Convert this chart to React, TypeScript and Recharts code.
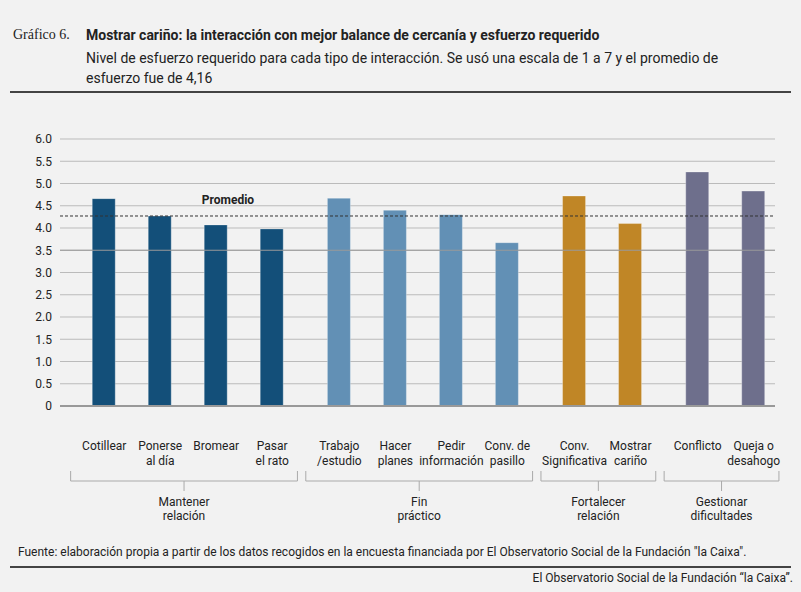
import React from "react"
import { Bar, BarChart, XAxis, YAxis, CartesianGrid, ReferenceLine, Cell } from "recharts"

const categories = [
  "Cotillear", "Ponerse\nal día", "Bromear", "Pasar\nel rato",
  "Trabajo\n/estudio", "Hacer\nplanes", "Pedir\ninformación", "Conv. de\npasillo",
  "Conv.\nSignificativa", "Mostrar\ncariño",
  "Conflicto", "Queja o\ndesahogo",
]
const groupOf = [0, 0, 0, 0, 1, 1, 1, 1, 2, 2, 3, 3]
const values = [4.66, 4.27, 4.07, 3.98, 4.67, 4.40, 4.30, 3.67, 4.72, 4.10, 5.26, 4.83]
const groups = ["Mantener\nrelación", "Fin\npráctico", "Fortalecer\nrelación", "Gestionar\ndificultades"]
const groupColors = ["#134f79", "#6290b5", "#c08626", "#6e6f8c"]
const promedio = 4.27
const yTicks = [0, 0.5, 1, 1.5, 2, 2.5, 3, 3.5, 4, 4.5, 5, 5.5, 6]

const GAP = 0.2
const PX = 56
const data = categories.map((name, i) => ({ name, value: values[i], pos: i + groupOf[i] * GAP, g: groupOf[i], i }))

const font = "Roboto, 'Noto Sans', sans-serif"

function Tick(props: any) {
  const { x, y, payload } = props
  const d = data.find((r) => Math.abs(r.pos - payload.value) < 0.01)
  if (!d) return null
  const lines = d.name.split("\n")
  const first = data.find((r) => r.g === d.g)!
  const last = [...data].reverse().find((r) => r.g === d.g)!
  const isFirst = first.i === d.i
  const top = y - 406
  let bracket = null
  if (isFirst) {
    const x0 = x - 0.6 * PX
    const x1 = x + (last.pos - first.pos) * PX + 0.45 * PX
    const mid = (x0 + x1) / 2
    const gl = groups[d.g].split("\n")
    bracket = (
      <g>
        <path d={`M${x0},${top + 463}V${top + 473}H${x1}V${top + 463}M${mid},${top + 473}V${top + 483}`} stroke="#aaa" fill="none" />
        {gl.map((t, k) => (
          <text key={k} x={mid} y={top + 498 + k * 14} textAnchor="middle" fontSize={12} fill="#222" fontFamily={font}>{t}</text>
        ))}
      </g>
    )
  }
  return (
    <g>
      {lines.map((t, k) => (
        <text key={k} x={x} y={top + 442 + k * 15} textAnchor="middle" fontSize={12} fill="#222" fontFamily={font}>{t}</text>
      ))}
      {bracket}
    </g>
  )
}

export default function App() {
  return (
    <div style={{ position: "absolute", left: 0, top: 0, width: 801, height: 592, background: "#f2f2f2", fontFamily: font, color: "#222" }}>
      <div style={{ position: "absolute", left: 13, top: 27, fontSize: 14, fontFamily: "'Liberation Serif', serif" }}>Gráfico 6.</div>
      <div style={{ position: "absolute", left: 86, top: 27, fontSize: 14, fontWeight: 700 }}>
        Mostrar cariño: la interacción con mejor balance de cercanía y esfuerzo requerido
      </div>
      <div style={{ position: "absolute", left: 86, top: 48, width: 650, fontSize: 14, lineHeight: "20px" }}>
        Nivel de esfuerzo requerido para cada tipo de interacción. Se usó una escala de 1 a 7 y el promedio de esfuerzo fue de 4,16
      </div>
      <div style={{ position: "absolute", left: 10, top: 91, width: 781, height: 2, background: "#444" }} />
      <div style={{ position: "absolute", left: 0, top: 0 }}>
        <BarChart width={801} height={592} data={data} margin={{ top: 139, right: 26, bottom: 0, left: 0 }}>
          <CartesianGrid vertical={false} stroke="#bbb" />
          <XAxis dataKey="pos" type="number" domain={[-0.79, 11.98 + 3 * GAP - 0.6]} ticks={data.map((d) => d.pos)}
            tick={<Tick />} tickLine={false} axisLine={{ stroke: "#999", strokeWidth: 2 }} interval={0} height={186} />
          <YAxis domain={[0, 6]} ticks={yTicks} interval={0} width={60} tickLine={false} axisLine={false}
            tickFormatter={(v) => (v === 0 ? "0" : v.toFixed(1))}
            tick={{ fontSize: 12, fill: "#222", fontFamily: font }} />
          <ReferenceLine y={3.5} stroke="#999" />
          <Bar dataKey="value" barSize={23} isAnimationActive={false} stroke="rgba(255,255,255,0.3)">
            {data.map((d) => (
              <Cell key={d.i} fill={groupColors[d.g]} />
            ))}
          </Bar>
          <ReferenceLine y={promedio} stroke="#333" strokeDasharray="3 2"
            label={(p: any) => (
              <text x={228} y={p.viewBox.y - 12} textAnchor="middle" fontSize={12} fontWeight={700} fill="#222" fontFamily={font}>Promedio</text>
            )} />
        </BarChart>
      </div>
      <div style={{ position: "absolute", left: 18, top: 545, fontSize: 12 }}>
        Fuente: elaboración propia a partir de los datos recogidos en la encuesta financiada por El Observatorio Social de la Fundación "la Caixa".
      </div>
      <div style={{ position: "absolute", left: 10, top: 566, width: 781, height: 2, background: "#444" }} />
      <div style={{ position: "absolute", right: 8, top: 571, fontSize: 12 }}>
        El Observatorio Social de la Fundación “la Caixa”.
      </div>
    </div>
  )
}
